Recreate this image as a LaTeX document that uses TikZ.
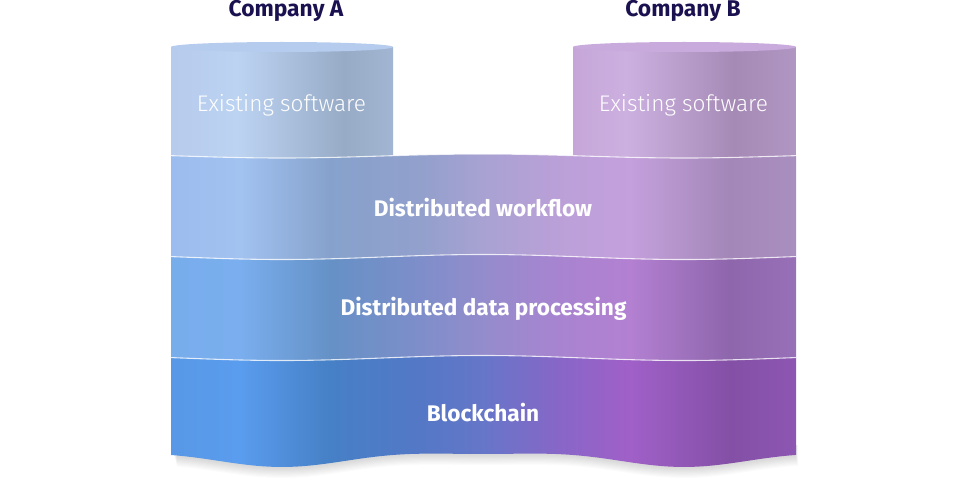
\documentclass[tikz,border=0pt]{standalone}
\usepackage{fontspec}
\setmainfont{Fira Sans}
\newfontfamily\lightfont{Fira Sans Light}
\definecolor{navy}{HTML}{1A1150}
% layer colours
\definecolor{wA}{HTML}{9BBCEE}\definecolor{wB}{HTML}{A2C2F0}\definecolor{wC}{HTML}{86A2CC}
\definecolor{wD}{HTML}{92A0CC}\definecolor{wE}{HTML}{A8A2D2}\definecolor{wF}{HTML}{BBA0D8}
\definecolor{wG}{HTML}{C4A0DC}\definecolor{wH}{HTML}{A387B8}\definecolor{wI}{HTML}{A98FC0}
\definecolor{dA}{HTML}{78ADEC}\definecolor{dB}{HTML}{7AAEEE}\definecolor{dC}{HTML}{6591C6}
\definecolor{dD}{HTML}{7E8ECA}\definecolor{dE}{HTML}{948CCC}\definecolor{dF}{HTML}{A884D0}
\definecolor{dG}{HTML}{B380D2}\definecolor{dH}{HTML}{8E66AC}\definecolor{dI}{HTML}{9870B8}
\definecolor{bA}{HTML}{5898E6}\definecolor{bB}{HTML}{5A9CEE}\definecolor{bC}{HTML}{4680C6}
\definecolor{bD}{HTML}{5478C6}\definecolor{bE}{HTML}{6676C8}\definecolor{bF}{HTML}{8866C8}
\definecolor{bG}{HTML}{A060C8}\definecolor{bH}{HTML}{8450A6}\definecolor{bI}{HTML}{8C56B2}
\definecolor{aA}{HTML}{B7CBEC}\definecolor{aB}{HTML}{BCD3F2}\definecolor{aC}{HTML}{97ABC6}\definecolor{aD}{HTML}{A2B5D2}
\definecolor{cA}{HTML}{C6A6D8}\definecolor{cB}{HTML}{CCB0E0}\definecolor{cC}{HTML}{A68AB6}\definecolor{cD}{HTML}{B096C2}
\definecolor{topA}{HTML}{B6CCEE}\definecolor{topB}{HTML}{C9AADC}
\pgfdeclarehorizontalshading{layerW}{100bp}{color(0bp)=(wA); color(25bp)=(wA); color(30.5bp)=(wB); color(37.7bp)=(wC); color(44.9bp)=(wD); color(50bp)=(wE); color(56.1bp)=(wF); color(61.7bp)=(wG); color(69.7bp)=(wH); color(75bp)=(wI); color(100bp)=(wI)}
\pgfdeclarehorizontalshading{layerD}{100bp}{color(0bp)=(dA); color(25bp)=(dA); color(30.5bp)=(dB); color(37.7bp)=(dC); color(44.9bp)=(dD); color(50bp)=(dE); color(56.1bp)=(dF); color(61.7bp)=(dG); color(69.7bp)=(dH); color(75bp)=(dI); color(100bp)=(dI)}
\pgfdeclarehorizontalshading{layerB}{100bp}{color(0bp)=(bA); color(25bp)=(bA); color(30.5bp)=(bB); color(37.7bp)=(bC); color(44.9bp)=(bD); color(50bp)=(bE); color(56.1bp)=(bF); color(61.7bp)=(bG); color(69.7bp)=(bH); color(75bp)=(bI); color(100bp)=(bI)}
\pgfdeclarehorizontalshading{cylA}{100bp}{color(0bp)=(aA); color(25bp)=(aA); color(40bp)=(aB); color(64bp)=(aC); color(75bp)=(aD); color(100bp)=(aD)}
\pgfdeclarehorizontalshading{cylB}{100bp}{color(0bp)=(cA); color(25bp)=(cA); color(37bp)=(cB); color(61bp)=(cC); color(75bp)=(cD); color(100bp)=(cD)}
% wave terms
\newcommand\Wa{cos((\x-282)*0.89552)}
\newcommand\Wb{cos((\x-282)*1.79104)}
\tikzset{
  sep/.style={draw=white,opacity=0.75,line width=1.1pt},
  boldlabel/.style={text=white,font=\bfseries\fontsize{22.6}{26}\selectfont},
  lightlabel/.style={text=white,font=\lightfont\fontsize{22.6}{26}\selectfont},
  company/.style={text=navy,font=\bfseries\fontsize{22.8}{26}\selectfont},
  smp/.style={samples=90},
}
\begin{document}
\begin{tikzpicture}[x=1pt,y=-1pt]
\useasboundingbox (0,0) rectangle (964,481);
% shadow
\foreach \i [evaluate=\i as \xs using 174+0.3*\i, evaluate=\i as \xe using 795+0.3*\i, evaluate=\i as \ys using 458.2+1.1*\i] in {1,...,10}{
  \fill[black,opacity=0.017] (\xs,445) -- plot[smp,domain=\xs:\xe] (\x,{\ys+6.5*\Wa+2.28*\Wb}) -- (\xe,445) -- cycle;
}
% layers
\shade[shading=layerB] plot[smp,domain=171:796] (\x,{358+2.5*\Wa}) -- plot[smp,domain=796:171] (\x,{458.2+6.5*\Wa+2.28*\Wb}) -- cycle;
\shade[shading=layerD] plot[smp,domain=171:796] (\x,{257+2.5*\Wa}) -- plot[smp,domain=796:171] (\x,{358+2.5*\Wa}) -- cycle;
\shade[shading=layerW] plot[smp,domain=171:796] (\x,{156+2*\Wa}) -- plot[smp,domain=796:171] (\x,{257+2.5*\Wa}) -- cycle;
% cylinders
\shade[shading=cylA] (171,47) -- plot[smp,domain=171:393] (\x,{156+2*\Wa}) -- (393,47) -- cycle;
\fill[topA] (282,47) ellipse (111 and 5);
\shade[shading=cylB] (573,47) -- plot[smp,domain=573:796] (\x,{156+2*\Wa}) -- (796,47) -- cycle;
\fill[topB] (684.5,47) ellipse (111.5 and 5);
% separators
\draw[sep] plot[smp,domain=171:796] (\x,{156+2*\Wa});
\draw[sep] plot[smp,domain=171:796] (\x,{257+2.5*\Wa});
\draw[sep] plot[smp,domain=171:796] (\x,{358+2.5*\Wa});
% labels
\node[company] (compA) at (286,11) {Company A};
\node[company] (compB) at (683,11) {Company B};
\node[lightlabel] (swA) at (281.5,105) {Existing software};
\node[lightlabel] (swB) at (683.5,105) {Existing software};
\node[boldlabel] (work) at (483,208) {Distributed workflow};
\node[boldlabel] (data) at (483.5,309) {Distributed data processing};
\node[boldlabel] (chain) at (483,413) {Blockchain};
\end{tikzpicture}
\end{document}
